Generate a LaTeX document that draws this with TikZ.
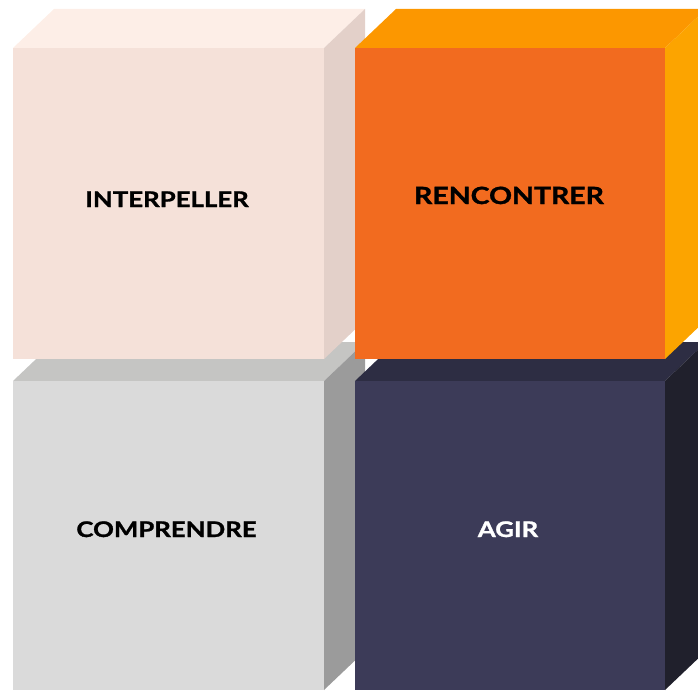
\documentclass[tikz,border=0pt]{standalone}
\usepackage{fontspec}
\setmainfont{Lato}
\newfontfamily\widelato[FakeStretch=1.2,BoldFeatures={FakeBold=1.3}]{Lato}
\definecolor{tlFront}{HTML}{F5E1D9}
\definecolor{tlTop}{HTML}{FDEEE7}
\definecolor{tlSide}{HTML}{E3D0C9}
\definecolor{trFront}{HTML}{F26B1F}
\definecolor{trTop}{HTML}{FC9700}
\definecolor{trSide}{HTML}{FCA400}
\definecolor{blFront}{HTML}{DADADA}
\definecolor{blTop}{HTML}{C5C5C3}
\definecolor{blSide}{HTML}{9B9B9B}
\definecolor{brFront}{HTML}{3C3B58}
\definecolor{brTop}{HTML}{2D2D43}
\definecolor{brSide}{HTML}{20202C}
\begin{document}
\begin{tikzpicture}[x=1pt,y=-1pt,
  cubetext/.style={anchor=base,inner sep=0pt,font=\widelato\bfseries\fontsize{21.5}{24}\selectfont}]
\clip (0,0) rectangle (698,690);
% bottom left
\path [fill=blTop] (13,381) -- (54,342) -- (365,342) -- (324,381) -- cycle;
\path [fill=blSide] (324,381) -- (365,342) -- (365,651) -- (324,690) -- cycle;
\path [fill=blFront] (13,381) rectangle (324,690);
% bottom right
\path [fill=brTop] (355,381) -- (396,342) -- (706,342) -- (665,381) -- cycle;
\path [fill=brSide] (665,381) -- (706,342) -- (706,651) -- (665,690) -- cycle;
\path [fill=brFront] (355,381) rectangle (665,690);
% top left
\path [fill=tlTop] (13,48) -- (54,9) -- (365,9) -- (324,48) -- cycle;
\path [fill=tlSide] (324,48) -- (365,9) -- (365,320) -- (324,359) -- cycle;
\path [fill=tlFront] (13,48) rectangle (324,359);
% top right
\path [fill=trTop] (355,48) -- (396,9) -- (706,9) -- (665,48) -- cycle;
\path [fill=trSide] (665,48) -- (706,9) -- (706,320) -- (665,359) -- cycle;
\path [fill=trFront] (355,48) rectangle (665,359);
% labels
\node [cubetext] (interpeller) at (167,207) {INTERPELLER};
\node [cubetext,font=\widelato\bfseries\fontsize{23.7}{26}\selectfont] (rencontrer) at (509,204) {RENCONTRER};
\node [cubetext] (comprendre) at (166.5,537) {COMPRENDRE};
\node [cubetext,text=white] (agir) at (508,537) {AGIR};
\end{tikzpicture}
\end{document}
